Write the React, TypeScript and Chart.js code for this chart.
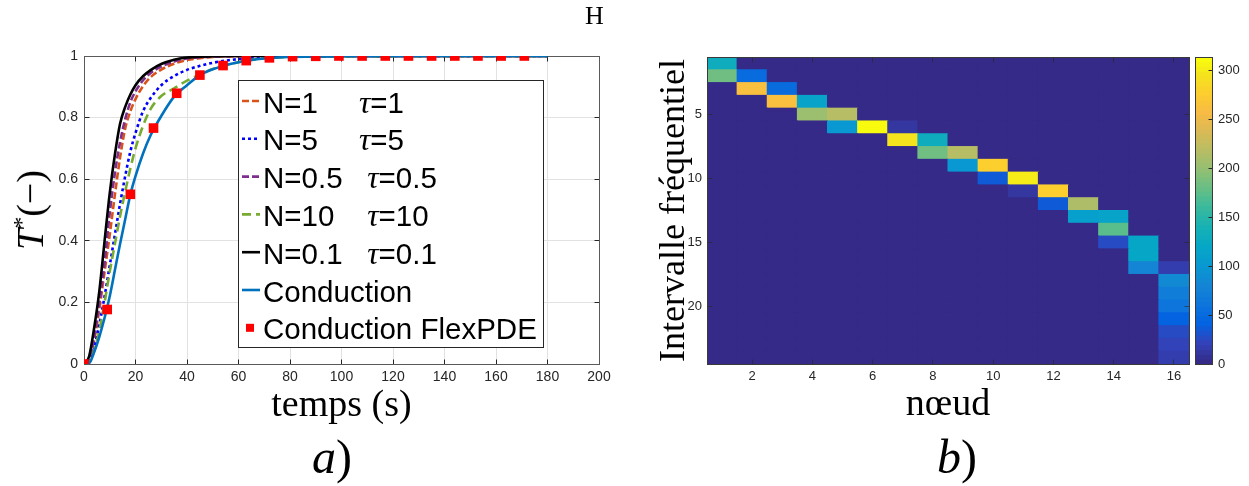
import React, { useEffect, useRef } from 'react';
import { Chart, registerables } from 'chart.js';

Chart.register(...registerables);

// ---------------- Panel a) : temperature curves ----------------
const timeS = [0, 2, 4, 6, 8, 10, 12, 14, 16, 18, 20, 23, 26, 30, 35, 40, 45, 50, 60, 70, 80, 100, 140, 180];
const curveN1 = [0, 0.01, 0.08, 0.18, 0.3, 0.42, 0.55, 0.67, 0.765, 0.82, 0.86, 0.903, 0.932, 0.956, 0.975, 0.987, 0.993, 0.997, 0.999, 1, 1, 1, 1, 1];
const curveN5 = [0, 0.005, 0.055, 0.13, 0.22, 0.32, 0.42, 0.52, 0.61, 0.69, 0.75, 0.822, 0.865, 0.905, 0.935, 0.955, 0.968, 0.978, 0.99, 0.996, 0.998, 1, 1, 1];
const curveN05 = [0, 0.015, 0.09, 0.2, 0.33, 0.49, 0.62, 0.72, 0.795, 0.85, 0.885, 0.922, 0.946, 0.966, 0.982, 0.992, 0.996, 0.998, 1, 1, 1, 1, 1, 1];
const curveN10 = [0, 0.004, 0.045, 0.11, 0.2, 0.3, 0.39, 0.48, 0.56, 0.635, 0.7, 0.775, 0.83, 0.87, 0.895, 0.92, 0.94, 0.958, 0.98, 0.992, 0.997, 0.999, 1, 1];
const curveN01 = [0, 0.025, 0.12, 0.24, 0.4, 0.555, 0.68, 0.78, 0.835, 0.875, 0.905, 0.935, 0.955, 0.974, 0.988, 0.995, 0.998, 0.999, 1, 1, 1, 1, 1, 1];
const curveConduction = [0, 0.003, 0.04, 0.09, 0.15, 0.22, 0.305, 0.39, 0.47, 0.55, 0.61, 0.685, 0.745, 0.805, 0.868, 0.905, 0.938, 0.957, 0.98, 0.992, 0.997, 0.999, 1, 1];
const flexTime = [0, 9, 18, 27, 36, 45, 54, 63, 72, 81, 90, 99, 108, 117, 126, 135, 144, 153, 162, 171];
const flexValue = [0, 0.177, 0.551, 0.766, 0.879, 0.938, 0.969, 0.985, 0.994, 0.998, 0.999, 1, 1, 1, 1, 1, 1, 1, 1, 1];
const seriesLabels = ['N=1     τ=1', 'N=5     τ=5', 'N=0.5   τ=0.5', 'N=10    τ=10', 'N=0.1   τ=0.1', 'Conduction', 'Conduction FlexPDE'];
const xTicksA = [0, 20, 40, 60, 80, 100, 120, 140, 160, 180, 200];
const yTicksA = [0, 0.2, 0.4, 0.6, 0.8, 1];

// ---------------- Panel b) : heat map ----------------
const nodeCount = 16;
const intervalCount = 24;
const cellNode = [1, 1, 2, 2, 3, 3, 4, 4, 5, 5, 6, 7, 7, 8, 8, 9, 9, 10, 10, 11, 11, 12, 12, 13, 13, 14, 14, 14, 15, 15, 15, 16, 16, 16, 16, 16, 16, 16, 16];
const cellInterval = [1, 2, 2, 3, 3, 4, 4, 5, 5, 6, 6, 6, 7, 7, 8, 8, 9, 9, 10, 10, 11, 11, 12, 12, 13, 13, 14, 15, 15, 16, 17, 17, 18, 19, 20, 21, 22, 23, 24];
const cellValue = [130, 184, 50, 262, 50, 262, 114, 204, 218, 100, 314, 12, 298, 130, 184, 218, 100, 277, 37, 300, 12, 276, 37, 213, 110, 116, 172, 27, 120, 120, 83, 17, 85, 71, 61, 41, 27, 23, 18];
const colorMax = 314;
const xTicksB = [2, 4, 6, 8, 10, 12, 14, 16];
const yTicksB = [5, 10, 15, 20];
const colorbarTicks = [0, 50, 100, 150, 200, 250, 300];

// parula colormap anchors (index in 64-level map, r, g, b)
const PARULA: number[][] = [
  [0, 0.2081, 0.1663, 0.5292], [4, 0.1959, 0.2645, 0.7279], [8, 0.0117, 0.3875, 0.882],
  [12, 0.0498, 0.4586, 0.8641], [16, 0.0793, 0.52, 0.8312], [20, 0.0343, 0.5966, 0.8199],
  [24, 0.0228, 0.6535, 0.7768], [28, 0.0843, 0.6928, 0.7062], [32, 0.2178, 0.725, 0.6193],
  [36, 0.3953, 0.7459, 0.5244], [40, 0.5709, 0.7485, 0.4494], [44, 0.7184, 0.7411, 0.3905],
  [48, 0.8507, 0.7299, 0.336], [52, 0.9739, 0.7314, 0.2666], [56, 0.988, 0.8066, 0.1794],
  [60, 0.9589, 0.8949, 0.1132], [63, 0.9763, 0.9831, 0.0538],
];
function parulaLevel(i: number): string {
  let k = 0;
  while (k < PARULA.length - 2 && PARULA[k + 1][0] < i) k++;
  const a = PARULA[k], b = PARULA[k + 1];
  const f = Math.max(0, Math.min(1, (i - a[0]) / (b[0] - a[0])));
  const c = [1, 2, 3].map((j) => Math.round((a[j] + (b[j] - a[j]) * f) * 255));
  return `rgb(${c[0]},${c[1]},${c[2]})`;
}
function colorFor(v: number): string {
  const idx = Math.min(63, Math.max(0, Math.floor((v / colorMax) * 64)));
  return parulaLevel(idx);
}

function framePlugin(id: string, color: string, tickColor: string, tickLen: number, late: boolean) {
  const al = (v: number) => Math.round(v - 0.5) + 0.5;
  const draw = (chart: any) => {
    const { ctx, chartArea: a, scales } = chart;
    const L = al(a.left), T = al(a.top), R = al(a.right), B = al(a.bottom);
    ctx.save();
    ctx.lineWidth = 1;
    if (tickLen > 0) {
      ctx.strokeStyle = tickColor;
      ctx.beginPath();
      const xs = scales.x, ys = scales.y;
      if (xs && xs.options.display !== false) {
        xs.ticks.forEach((t: any) => {
          const px = al(xs.getPixelForValue(t.value));
          ctx.moveTo(px, T); ctx.lineTo(px, T + tickLen);
          ctx.moveTo(px, B); ctx.lineTo(px, B - tickLen);
        });
      }
      ys.ticks.forEach((t: any) => {
        const py = al(ys.getPixelForValue(t.value));
        ctx.moveTo(L, py); ctx.lineTo(L + tickLen, py);
        ctx.moveTo(R, py); ctx.lineTo(R - tickLen, py);
      });
      ctx.stroke();
    }
    ctx.strokeStyle = color;
    ctx.strokeRect(L, T, R - L, B - T);
    ctx.restore();
  };
  return late ? { id, afterDraw: draw } : { id, beforeDatasetsDraw: draw };
}

const legendBoxPlugin = {
  id: 'legendBox',
  afterDraw(chart: any) {
    const { ctx, chartArea: ca } = chart;
    const left = ca.left + 154, top = ca.top + 24, right = ca.left + 459, bottom = ca.top + 291;
    ctx.save();
    ctx.fillStyle = '#ffffff';
    ctx.fillRect(left, top, right - left, bottom - top);
    ctx.strokeStyle = '#262626';
    ctx.lineWidth = 1;
    ctx.strokeRect(left + 0.5, top + 0.5, right - left, bottom - top);
    const sans = '29.5px "Liberation Sans"';
    chart.data.datasets.forEach((ds: any, i: number) => {
      const base = top + 32.5 + i * 37.8;
      const my = base - 11.5;
      if (ds.showLine === false) {
        ctx.fillStyle = ds.backgroundColor;
        ctx.fillRect(left + 8, my - 4, 8, 8);
      } else {
        ctx.strokeStyle = ds.borderColor;
        ctx.lineWidth = ds.borderWidth;
        ctx.setLineDash(ds.borderDash || []);
        ctx.beginPath();
        ctx.moveTo(left + 4, my);
        ctx.lineTo(left + 22, my);
        ctx.stroke();
        ctx.setLineDash([]);
      }
      const parts = String(ds.label).split('τ');
      let x = left + 25;
      ctx.fillStyle = '#000';
      ctx.textAlign = 'left';
      ctx.textBaseline = 'alphabetic';
      ctx.font = sans;
      ctx.fillText(parts[0], x, base);
      x += ctx.measureText(parts[0]).width;
      if (parts.length > 1) {
        ctx.font = 'italic 32px "Liberation Serif"';
        ctx.fillText('τ', x, base);
        x += ctx.measureText('τ').width;
        ctx.font = sans;
        ctx.fillText(parts[1], x, base);
      }
    });
    ctx.restore();
  },
};

export default function App() {
  const refA = useRef<HTMLCanvasElement>(null);
  const refB = useRef<HTMLCanvasElement>(null);
  const refC = useRef<HTMLCanvasElement>(null);

  useEffect(() => {
    const charts: Chart[] = [];
    const tickFontA = { family: '"Liberation Sans"', size: 14 };
    const tickFontB = { family: '"Liberation Sans"', size: 13 };
    const titleFontX = { family: '"Liberation Serif"', size: 38 };
    const titleFontY = { family: '"Liberation Serif"', size: 36 };

    // ---------- panel a ----------
    const curves = [curveN1, curveN5, curveN05, curveN10, curveN01, curveConduction];
    const curveColors = ['#D95319', '#0000FF', '#7E2F8E', '#77AC30', '#000000', '#0072BD'];
    const curveDash = [[7, 3], [3, 3], [7, 3], [9, 5], [], []];
    const lineSets: any[] = curves.map((vals, i) => ({
      type: 'line',
      label: seriesLabels[i],
      data: timeS.map((t, k) => ({ x: t, y: vals[k] })),
      borderColor: curveColors[i],
      backgroundColor: curveColors[i],
      borderDash: curveDash[i],
      borderWidth: 2.6,
      pointRadius: 0,
      fill: false,
      cubicInterpolationMode: 'monotone',
      order: 7 - i,
    }));
    lineSets.push({
      type: 'line',
      label: seriesLabels[6],
      data: flexTime.map((t, k) => ({ x: t, y: flexValue[k] })),
      showLine: false,
      pointStyle: 'rect',
      pointRadius: 6.8,
      pointBorderWidth: 0,
      backgroundColor: '#FF0000',
      borderColor: '#FF0000',
      order: 0,
    });

    if (refA.current) {
      charts.push(
        new Chart(refA.current, {
          type: 'line',
          data: { datasets: lineSets },
          options: {
            animation: false,
            responsive: false,
            events: [],
            layout: { padding: { left: 0, top: 56, right: 21, bottom: 0 } },
            plugins: { legend: { display: false }, tooltip: { enabled: false } },
            scales: {
              x: {
                type: 'linear',
                min: 0,
                max: 200,
                afterBuildTicks: (ax: any) => { ax.ticks = xTicksA.map((v) => ({ value: v })); },
                afterFit: (ax: any) => { ax.height = 122; },
                grid: { color: '#e2e2e2', drawTicks: false },
                border: { display: false },
                ticks: { padding: 5, color: '#262626', font: tickFontA, maxRotation: 0, autoSkip: false, callback: (v: any) => String(v) },
                title: { display: true, text: 'temps (s)', color: '#000', font: titleFontX, padding: { top: 0, bottom: 57 } },
              },
              y: {
                type: 'linear',
                min: 0,
                max: 1,
                afterBuildTicks: (ax: any) => { ax.ticks = yTicksA.map((v) => ({ value: v })); },
                afterFit: (ax: any) => { ax.width = 84; },
                grid: { color: '#e2e2e2', drawTicks: false },
                border: { display: false },
                ticks: { padding: 6, color: '#262626', font: tickFontA, autoSkip: false, callback: (v: any) => String(v) },
              },
            },
          } as any,
          plugins: [framePlugin('frameA', '#5a5a5a', '#262626', 5, false), legendBoxPlugin],
        } as any)
      );
    }

    // ---------- panel b : heat map ----------
    const cellVals: number[][] = [];
    for (let r = 0; r < intervalCount; r++) cellVals.push(new Array(nodeCount).fill(0));
    cellNode.forEach((c, k) => { cellVals[cellInterval[k] - 1][c - 1] = cellValue[k]; });
    const heatData: any[] = [];
    const heatColors: string[] = [];
    for (let r = 1; r <= intervalCount; r++) {
      for (let c = 1; c <= nodeCount; c++) {
        heatData.push({ x: c, y: [r - 0.5, r + 0.5] });
        heatColors.push(colorFor(cellVals[r - 1][c - 1]));
      }
    }
    if (refB.current) {
      charts.push(
        new Chart(refB.current, {
          type: 'bar',
          data: {
            datasets: [{
              label: 'Intervalle fréquentiel / nœud',
              data: heatData,
              backgroundColor: heatColors,
              borderWidth: 0,
              barPercentage: 1,
              categoryPercentage: 1,
              inflateAmount: 0.5,
            }],
          },
          options: {
            animation: false,
            responsive: false,
            events: [],
            layout: { padding: { left: 0, top: 57, right: 7, bottom: 0 } },
            plugins: { legend: { display: false }, tooltip: { enabled: false } },
            scales: {
              x: {
                type: 'linear',
                min: 0.5,
                max: nodeCount + 0.5,
                offset: false,
                z: 1,
                afterBuildTicks: (ax: any) => { ax.ticks = xTicksB.map((v) => ({ value: v })); },
                afterFit: (ax: any) => { ax.height = 122; },
                grid: { color: 'rgba(38,38,38,0.18)', drawTicks: false, offset: false },
                border: { display: false },
                ticks: { padding: 5, color: '#262626', font: tickFontB, maxRotation: 0, autoSkip: false },
                title: { display: true, text: 'nœud', color: '#000', font: titleFontX, padding: { top: 0, bottom: 58 } },
              },
              y: {
                type: 'linear',
                min: 0.5,
                max: intervalCount + 0.5,
                reverse: true,
                z: 1,
                afterBuildTicks: (ax: any) => { ax.ticks = yTicksB.map((v) => ({ value: v })); },
                afterFit: (ax: any) => { ax.width = 77; },
                grid: { color: 'rgba(38,38,38,0.18)', drawTicks: false },
                border: { display: false },
                ticks: { padding: 5, color: '#262626', font: tickFontB, autoSkip: false },
                title: { display: true, text: 'Intervalle fréquentiel', color: '#000', font: titleFontY, padding: { top: 23, bottom: 0 } },
              },
            },
          } as any,
          plugins: [framePlugin('frameB', '#3a3a3a', 'rgba(38,38,38,0.6)', 5, true)],
        } as any)
      );
    }

    // ---------- colour bar ----------
    const levels = Array.from({ length: 64 }, (_, i) => i);
    const step = colorMax / 64;
    if (refC.current) {
      charts.push(
        new Chart(refC.current, {
          type: 'bar',
          data: {
            labels: ['cb'],
            datasets: [{
              label: 'échelle',
              data: levels.map((i) => ({ x: 'cb', y: [i * step, (i + 1) * step] })),
              backgroundColor: levels.map((i) => parulaLevel(i)),
              borderWidth: 0,
              barPercentage: 1,
              categoryPercentage: 1,
              inflateAmount: 0.5,
            }],
          },
          options: {
            animation: false,
            responsive: false,
            events: [],
            layout: { padding: { left: 5, top: 57, right: 0, bottom: 122 } },
            plugins: { legend: { display: false }, tooltip: { enabled: false } },
            scales: {
              x: { display: false },
              y: {
                position: 'right',
                min: 0,
                max: colorMax,
                afterBuildTicks: (ax: any) => { ax.ticks = colorbarTicks.map((v) => ({ value: v })); },
                afterFit: (ax: any) => { ax.width = 37; },
                grid: { display: false, drawTicks: false },
                border: { display: false },
                ticks: { padding: 6, color: '#262626', font: tickFontB, autoSkip: false },
              },
            },
          } as any,
          plugins: [{
            id: 'cbFrame',
            afterDraw(chart: any) {
              const { ctx, chartArea: a, scales } = chart;
              const al = (v: number) => Math.round(v - 0.5) + 0.5;
              ctx.save();
              ctx.lineWidth = 1;
              ctx.strokeStyle = '#262626';
              ctx.beginPath();
              scales.y.ticks.forEach((t: any) => {
                const py = al(scales.y.getPixelForValue(t.value));
                ctx.moveTo(al(a.right) - 4, py); ctx.lineTo(al(a.right), py);
              });
              ctx.stroke();
              ctx.strokeStyle = '#3a3a3a';
              ctx.strokeRect(al(a.left), al(a.top), al(a.right) - al(a.left), al(a.bottom) - al(a.top));
              ctx.restore();
            },
          }],
        } as any)
      );
    }

    return () => charts.forEach((c) => c.destroy());
  }, []);

  const serif = '"Liberation Serif", serif';
  return (
    <div style={{ position: 'absolute', left: 0, top: 0, width: 1249, height: 486, background: '#fff', overflow: 'hidden' }}>
      <canvas ref={refA} width={620} height={486} style={{ position: 'absolute', left: 0, top: 0 }} />
      <canvas ref={refB} width={566} height={486} style={{ position: 'absolute', left: 630, top: 0 }} />
      <canvas ref={refC} width={59} height={486} style={{ position: 'absolute', left: 1190, top: 0 }} />
      <div style={{ position: 'absolute', left: 30, top: 210, transform: 'translate(-50%, -50%) rotate(-90deg)', fontFamily: serif, fontSize: 38, lineHeight: 1, whiteSpace: 'nowrap', color: '#000' }}>
        <i>T</i><span style={{ fontSize: 24, position: 'relative', top: -14 }}>*</span>(−)
      </div>
      <div style={{ position: 'absolute', left: 312, top: 433, fontFamily: serif, fontSize: 48, lineHeight: '48px', whiteSpace: 'nowrap', color: '#000' }}>
        <i>a</i>)
      </div>
      <div style={{ position: 'absolute', left: 937, top: 433, fontFamily: serif, fontSize: 48, lineHeight: '48px', whiteSpace: 'nowrap', color: '#000' }}>
        <i>b</i>)
      </div>
      <div style={{ position: 'absolute', left: 585, top: 3, fontFamily: serif, fontSize: 26, lineHeight: '26px', color: '#000' }}>H</div>
    </div>
  );
}
